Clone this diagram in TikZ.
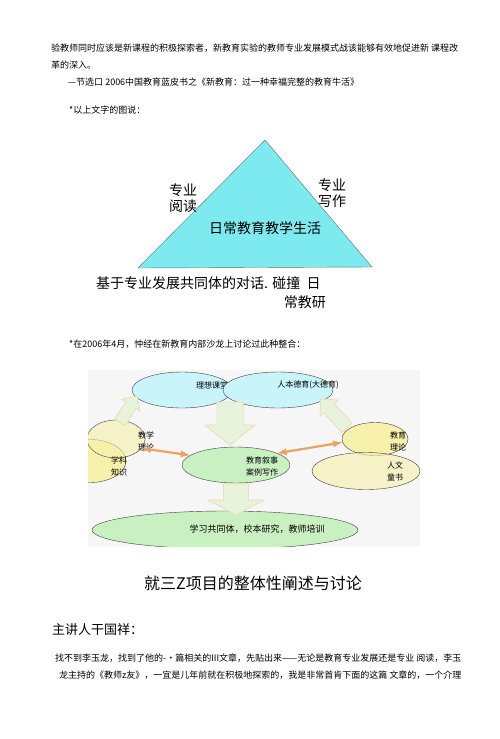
\documentclass[tikz,border=0pt]{standalone}
\usepackage{fontspec}
\newfontfamily\cjk{Noto Sans CJK SC}
\usetikzlibrary{shapes.geometric}

\newcommand{\fsz}[2]{\fontsize{#1}{#2}\selectfont}
% fat arrow: tail x, tail y, angle, length, half shaft, half head, head length
\newcommand{\fatarrow}[7]{%
  \begin{scope}[shift={(#1,#2)}, rotate=#3]
    \filldraw[blockarr] (0,-#5) -- (#4-#7,-#5) -- (#4-#7,-#6) -- (#4,0)
      -- (#4-#7,#6) -- (#4-#7,#5) -- (0,#5) -- cycle;
  \end{scope}}

\definecolor{tricyan}{RGB}{125,234,240}
\definecolor{triedge}{RGB}{95,115,120}
\definecolor{lightcyan}{RGB}{200,244,250}
\definecolor{lightyellow}{RGB}{246,240,170}
\definecolor{lightgreen}{RGB}{200,240,192}
\definecolor{arrorange}{RGB}{240,160,96}
\definecolor{arrfill}{RGB}{232,243,220}
\definecolor{arredge}{RGB}{236,222,184}
\definecolor{diagbg}{RGB}{245,246,245}

\tikzset{
  bodytext/.style={font=\cjk\fsz{9}{12}, anchor=west, inner sep=0pt},
  bubble/.style={ellipse, draw=black!75, thin, inner sep=0pt},
  bubbletext/.style={font=\cjk\fsz{8}{12}, align=center, inner sep=0pt},
  blockarr/.style={fill=arrfill, draw=arredge, line width=.8pt},
  orangearr/.style={<->, >=latex, draw=arrorange, line width=2.2pt}
}

\begin{document}
\begin{tikzpicture}[x=1pt, y=-1pt]
\useasboundingbox (0,0) rectangle (500,739);
\fill[white] (0,0) rectangle (500,739);

% quoted passage
\node[bodytext] (p1) at (51,48) {验教师同时应该是新课程的积极探索者，新教育实验的教师专业发展模式战该能够有效地促进新 课程改};
\node[bodytext] (p2) at (51,65) {革的深入。};
\node[bodytext] (p3) at (68,82) {—节选口 2006中国教育蓝皮书之《新教育：过一种幸福完整的教育牛活》};
\node[bodytext] (p4) at (69,110) {*以上文字的图说：};

% triangle
\coordinate (apex) at (265,140);
\coordinate (rt) at (372,267);
\coordinate (lt) at (138,268);
\filldraw[fill=tricyan, draw=triedge, thin] (apex) -- (rt) -- (lt) -- cycle;
\node[font=\cjk\fsz{14}{16}, align=center, inner sep=0pt] (read) at (183,198) {专业\\阅读};
\node[font=\cjk\fsz{14}{16}, align=center, inner sep=0pt] (write) at (332,193) {专业\\写作};
\node[font=\cjk\fsz{14}{16}, inner sep=0pt] (daily) at (265,228) {日常教育教学生活};
\node[font=\cjk\fsz{14}{18}, anchor=west, inner sep=0pt] (base1) at (96,283) {基于专业发展共同体的对话. 碰撞\ \ 日};
\node[font=\cjk\fsz{14}{18}, anchor=east, inner sep=0pt] (base2) at (326,302) {常教研};

\node[bodytext] (p5) at (69,344) {*在2006年4月，忡经在新教育内部沙龙上讨论过此种整合：};

% integration diagram
\fill[diagbg] (88,370) rectangle (420,546);
\begin{scope}
\clip (88,370) rectangle (420,546);
\node[bubble, fill=lightcyan, minimum width=100pt, minimum height=36pt] (ideal) at (182,390) {};
\node[bubbletext] (idealtxt) at (212,385) {理想课堂};
\node[bubble, fill=lightcyan, minimum width=110pt, minimum height=36pt] (moral) at (278,390) {};
\node[bubbletext] (moraltxt) at (308,385) {人本德育(大德育)};

\node[bubble, fill=lightyellow, minimum width=72pt, minimum height=43pt] (subject) at (90,461) {};
\node[bubble, fill=lightyellow, fill opacity=.6, minimum width=58pt, minimum height=38pt] (teachth) at (116,439) {};
\node[bubble, fill=lightyellow, minimum width=66pt, minimum height=33pt] (eduth) at (375,439) {};
\node[bubble, fill=lightyellow, fill opacity=.6, minimum width=108pt, minimum height=37pt] (human) at (366,471) {};
\node[bubble, fill=lightgreen, minimum width=108pt, minimum height=36pt] (story) at (236,465) {};
\node[bubble, fill=lightgreen, minimum width=266pt, minimum height=38pt] (commun) at (225,530) {};

\node[bubbletext] (subjtxt) at (119,466) {学科\\知识};
\node[bubbletext] (teachtxt) at (146,441) {教学\\理论};
\node[bubbletext] (edutxt) at (398,441) {教育\\理论};
\node[bubbletext] (humantxt) at (395,471) {人文\\童书};
\node[bubbletext] (storytxt) at (262,466) {教育叙事\\案例写作};
\node[font=\cjk\fsz{9}{12}, inner sep=0pt] (communtxt) at (257,529) {学习共同体，校本研究，教师培训};

\fatarrow{230}{402}{-90}{43}{13}{25}{20}
\fatarrow{236}{484}{-90}{31}{12.5}{28}{15}
\fatarrow{120}{422}{57}{31}{6}{11}{11}
\fatarrow{347}{428}{132}{39}{7}{12}{12}

\draw[orangearr] (teachth.-20) -- (story.168);
\draw[orangearr] (story.16) -- (eduth.186);
\end{scope}

% heading and text below
\node[font=\cjk\fsz{16}{18}, inner sep=0pt] (title) at (253,583) {就三Z项目的整体性阐述与讨论};
\node[font=\cjk\fsz{13}{16}, anchor=west, inner sep=0pt] (speaker) at (52,630) {主讲人干国祥：};
\node[bodytext] (q1) at (55,658) {找不到李玉龙，找到了他的-•篇相关的III文章，先贴出来——无论是教育专业发展还是专业 阅读，李玉};
\node[bodytext] (q2) at (59,675) {龙主持的《教师z友》，一宜是儿年前就在积极地探索的，我是非常首肯下面的这篇 文章的，一个介理};
\end{tikzpicture}
\end{document}
